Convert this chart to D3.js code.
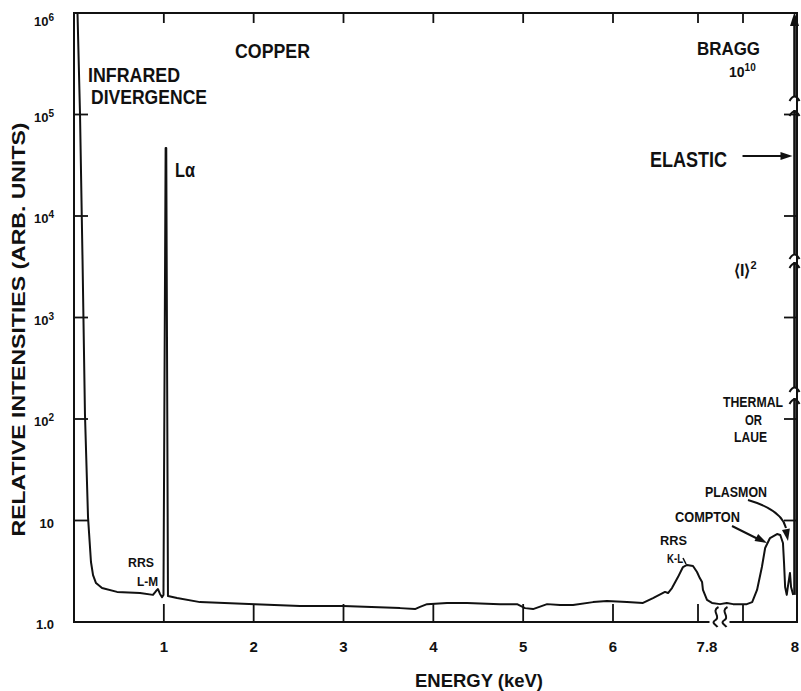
<!DOCTYPE html>
<html>
<head>
<meta charset="utf-8">
<script src="https://cdn.jsdelivr.net/npm/d3@7"></script>
<style>
	body {margin: 0; background: #fff;}
	svg {display: block;}
	text {font-family: "Liberation Sans Narrow", "Arial Narrow", "Liberation Sans", Arial, sans-serif; font-weight: bold; fill: #111;}
	.frame, .tick, .curve, .bragg, .arrow {fill: none; stroke: #111;}
</style>
</head>
<body>
<div id="chart"></div>
<script>
// spectrum: energy (keV) vs relative intensity
var energy = [0.039,0.067,0.095,0.122,0.156,0.189,0.212,0.245,0.312,0.479,0.735,0.879,0.913,0.935,0.957,0.980,0.996,1.020,1.027,1.046,1.147,1.403,2.015,2.516,2.995,3.629,3.796,3.852,3.930,4.152,4.375,4.742,4.932,5.021,5.110,5.266,5.410,5.555,5.778,5.933,6.296,6.635,6.847,7.101,7.165,7.249,7.376,7.482,7.567,7.694,7.779,7.804,7.809,7.811,7.820,7.831,7.849,7.864,7.878,7.907,7.917,7.926,7.935,7.941,7.950,7.963,7.969,7.974,7.976,7.978,7.981,7.983,7.987,7.989,7.993]
var intensity = [1e6,1.0e5,3.7e3,112,10.8,3.9,2.9,2.42,2.16,1.98,1.93,1.85,2.02,2.11,1.89,1.76,1.85,4.68e4,4.68e4,1.80,1.72,1.57,1.50,1.44,1.44,1.37,1.34,1.41,1.50,1.54,1.54,1.50,1.50,1.37,1.34,1.50,1.47,1.47,1.57,1.61,1.57,1.54,1.72,1.98,1.93,2.16,2.77,3.48,3.65,3.56,3.11,2.71,2.48,2.07,1.65,1.54,1.50,1.54,1.50,1.50,1.57,2.07,3.48,5.36,6.72,7.36,7.19,6.0,3.81,2.21,1.85,2.21,3.04,2.21,1.85]

var xTickValues = [1, 2, 3, 4, 5, 6, 7.8, 7.9]
var xLabelValues = [1, 2, 3, 4, 5, 6, 7.8, 8.0]
var xLabelTexts = ["1", "2", "3", "4", "5", "6", "7.8", "8"]
var yTickValues = [1, 10, 1e2, 1e3, 1e4, 1e5, 1e6]
var yTickBase = ["1.0", "10", "10", "10", "10", "10", "10"]
var yTickSup = ["", "", "2", "3", "4", "5", "6"]

// Bragg peak (off scale, 10^10) drawn as a broken vertical line
var braggEnergy = 7.9954
var braggSegments = [[1.85, 161], [202, 3524], [4130, 110700], [148600, 1e6]]
var elasticLevel = 3.9e4

;(function () {
	var width = 801, height = 691
	var m = {left: 74, right: 797, top: 13, bottom: 622}

	var x = d3.scaleLinear().domain([0, 6, 7.8, 7.9, 8.0]).range([m.left, 613, 698, 743, m.right])
	var y = d3.scaleLog().domain([1, 1e6]).range([m.bottom, m.top])

	var svg = d3.select("#chart").append("svg")
		.attr("width", width)
		.attr("height", height)

	// frame (bottom axis has a break between 7.8 and 7.9)
	var xBreak = x(7.85)
	svg.append("path").attr("class", "frame").attr("stroke-width", 2)
		.attr("d", "M" + (xBreak - 11) + "," + m.bottom + "H" + m.left + "V" + m.top + "H" + m.right + "V" + m.bottom + "H" + (xBreak + 9))
	function squiggle(cx) {
		var b = m.bottom
		return "M" + (cx + 3) + "," + (b - 15) + "C" + (cx - 5) + "," + (b - 11) + " " + (cx + 6) + "," + (b - 5) + " " + cx + "," + (b - 2)
			+ "C" + (cx - 5) + "," + (b + 1) + " " + (cx + 1) + "," + (b + 3) + " " + (cx + 2) + "," + (b + 5)
	}
	svg.append("path").attr("class", "frame").attr("stroke-width", 2).attr("d", squiggle(xBreak - 5))
	svg.append("path").attr("class", "frame").attr("stroke-width", 2).attr("d", squiggle(xBreak + 4))

	// ticks, all pointing inward
	var ticks = svg.append("g").attr("class", "tick").attr("stroke-width", 1.8)
	xTickValues.forEach(function (v) {
		ticks.append("line").attr("x1", x(v)).attr("x2", x(v)).attr("y1", m.bottom).attr("y2", m.bottom - 18)
		ticks.append("line").attr("x1", x(v)).attr("x2", x(v)).attr("y1", m.top).attr("y2", m.top + 10)
	})
	yTickValues.slice(1, -1).forEach(function (v) {
		ticks.append("line").attr("x1", m.left).attr("x2", m.left + 14).attr("y1", y(v)).attr("y2", y(v))
		ticks.append("line").attr("x1", m.right).attr("x2", m.right - 13).attr("y1", y(v)).attr("y2", y(v))
	})

	// tick labels
	xLabelValues.forEach(function (v, i) {
		svg.append("text")
			.attr("x", x(v) + (xLabelTexts[i] == "7.8" ? 9 : 0) - (v == 8 ? 2 : 0))
			.attr("y", 652)
			.attr("text-anchor", "middle")
			.style("font-size", "15px")
			.text(xLabelTexts[i])
	})
	yTickValues.forEach(function (v, i) {
		var t = svg.append("text")
			.attr("x", 54)
			.attr("y", Math.max(y(v) + 7, 26))
			.attr("text-anchor", "end")
			.style("font-size", "13px")
		t.append("tspan").text(yTickBase[i])
		if (yTickSup[i]) t.append("tspan").attr("dy", -5).style("font-size", "10px").text(yTickSup[i])
	})

	// axis titles
	svg.append("text")
		.attr("transform", "translate(25," + ((m.top + m.bottom) / 2 + 12) + ") rotate(-90)")
		.attr("text-anchor", "middle")
		.attr("textLength", 414).attr("lengthAdjust", "spacingAndGlyphs")
		.style("font-size", "19px").style("font-weight", "bold")
		.style("font-family", "'Liberation Sans', Arial, sans-serif")
		.text("RELATIVE INTENSITIES (ARB. UNITS)")
	svg.append("text")
		.attr("x", 479).attr("y", 687)
		.attr("text-anchor", "middle")
		.attr("textLength", 128).attr("lengthAdjust", "spacingAndGlyphs")
		.style("font-size", "19px")
		.text("ENERGY (keV)")

	// the spectrum
	var points = d3.zip(energy, intensity)
	var line = d3.line().x(function (d) { return x(d[0]) }).y(function (d) { return y(d[1]) })
	svg.append("path").attr("class", "curve")
		.attr("stroke-width", 2)
		.attr("stroke-linejoin", "round")
		.attr("d", line(points))

	// Bragg line with breaks and top arrow
	var bx = x(braggEnergy)
	var bragg = svg.append("g").attr("class", "bragg").attr("stroke-width", 2.6)
	braggSegments.forEach(function (s, i) {
		var y1 = y(s[0]), y2 = y(s[1])
		bragg.append("line").attr("x1", bx).attr("x2", bx).attr("y1", y1).attr("y2", i == braggSegments.length - 1 ? y2 + 10 : y2)
		if (i < braggSegments.length - 1)
			bragg.append("path").attr("stroke-width", 2).attr("d", "M" + (bx - 5) + "," + (y2 + 6) + "Q" + bx + "," + (y2 - 3) + " " + (bx + 5) + "," + (y2 + 6))
		if (i > 0)
			bragg.append("path").attr("stroke-width", 2).attr("d", "M" + (bx - 5) + "," + (y1 + 4) + "Q" + bx + "," + (y1 - 5) + " " + (bx + 5) + "," + (y1 + 4))
	})
	svg.append("path").attr("fill", "#111")
		.attr("d", "M" + bx + "," + (m.top - 1) + "L" + (bx - 4.5) + "," + (m.top + 13) + "L" + (bx + 4.5) + "," + (m.top + 13) + "Z")

	// arrows
	function arrowHead(tx, ty, angle) {
		var a = angle * Math.PI / 180, len = 12, half = 4
		var bxp = tx - len * Math.cos(a), byp = ty - len * Math.sin(a)
		var p1 = [bxp + half * Math.sin(a), byp - half * Math.cos(a)]
		var p2 = [bxp - half * Math.sin(a), byp + half * Math.cos(a)]
		svg.append("path").attr("fill", "#111")
			.attr("d", "M" + tx + "," + ty + "L" + p1 + "L" + p2 + "Z")
	}
	var ey = y(elasticLevel)
	svg.append("line").attr("class", "arrow").attr("stroke-width", 2)
		.attr("x1", bx - 52).attr("x2", bx - 8).attr("y1", ey).attr("y2", ey)
	arrowHead(bx - 2, ey, 0)

	svg.append("path").attr("class", "arrow").attr("stroke-width", 2)
		.attr("d", "M732,526 L758,539")
	arrowHead(767, 543, 27)
	svg.append("path").attr("class", "arrow").attr("stroke-width", 2)
		.attr("d", "M748,500 Q782,510 786,528")
	arrowHead(788, 541, 80)
	svg.append("path").attr("class", "arrow").attr("stroke-width", 1.5)
		.attr("d", "M683,558 L686,564")

	// annotations
	var labels = [
		{t: "INFRARED", x: 88, y: 82, s: 21, w: 92},
		{t: "DIVERGENCE", x: 91, y: 104, s: 21, w: 116},
		{t: "COPPER", x: 235, y: 58, s: 20, w: 75},
		{t: "BRAGG", x: 697, y: 55, s: 19, w: 63},
		{t: "ELASTIC", x: 650, y: 167, s: 22, w: 77},
		{t: "Lα", x: 175, y: 177, s: 20, w: 20},
		{t: "RRS", x: 128, y: 567, s: 13, w: 26},
		{t: "L-M", x: 137, y: 586, s: 13, w: 21},
		{t: "THERMAL", x: 723, y: 407, s: 14, w: 60},
		{t: "OR", x: 745, y: 425, s: 14, w: 17},
		{t: "LAUE", x: 734, y: 442, s: 14, w: 33},
		{t: "PLASMON", x: 705, y: 497, s: 14, w: 62},
		{t: "COMPTON", x: 675, y: 522, s: 14, w: 65},
		{t: "RRS", x: 660, y: 545, s: 13, w: 27},
		{t: "K-L", x: 667, y: 563, s: 13, w: 16}
	]
	labels.forEach(function (l) {
		svg.append("text")
			.attr("x", l.x).attr("y", l.y)
			.attr("textLength", l.w).attr("lengthAdjust", "spacingAndGlyphs")
			.style("font-size", l.s + "px")
			.text(l.t)
	})
	var tenTen = svg.append("text").attr("x", 729).attr("y", 77).style("font-size", "14px")
	tenTen.append("tspan").text("10")
	tenTen.append("tspan").attr("dy", -6).style("font-size", "10px").text("10")
	var mean = svg.append("text").attr("x", 734).attr("y", 276).style("font-size", "16px")
	mean.append("tspan").text("⟨I⟩")
	mean.append("tspan").attr("dy", -7).style("font-size", "11px").text("2")
})()
</script>
</body>
</html>
